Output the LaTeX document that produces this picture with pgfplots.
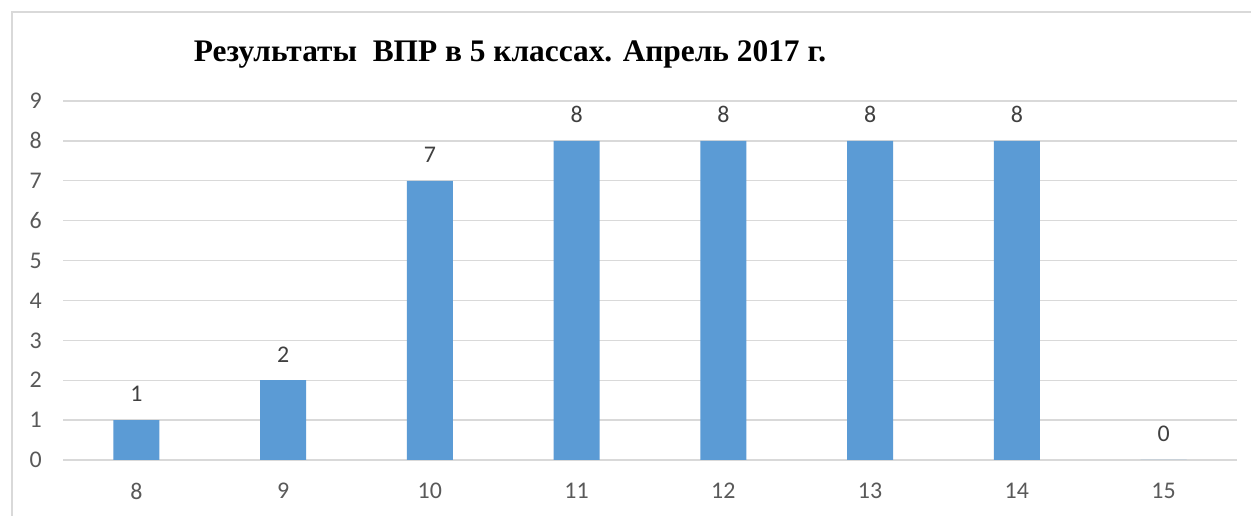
\documentclass[border=0pt]{standalone}
\usepackage{pgfplots}
\pgfplotsset{compat=1.18}
\usepackage{fontspec}
\setmainfont{Carlito}
\newfontfamily\titlefont{Liberation Serif}
\definecolor{barblue}{HTML}{5B9BD5}
\definecolor{gridgray}{HTML}{D9D9D9}
\definecolor{ticktext}{HTML}{595959}
\definecolor{labeltext}{HTML}{404040}
\begin{document}
\begin{tikzpicture}
\useasboundingbox (0,0) rectangle (1251bp,516bp);
\fill[white] (0,0) rectangle (1251bp,516bp);
\draw[gridgray, line width=2.5bp] (12bp,-20bp) -- (12bp,504bp) -- (1280bp,504bp);
\begin{axis}[at={(63bp,56bp)}, anchor=south west, scale only axis,
 width=1174bp, height=359bp,
 xmin=-0.5, xmax=7.5, ymin=0, ymax=9,
 ybar, bar width=46bp,
 axis line style={draw=none},
 ymajorgrids, grid style={gridgray, line width=1.3bp},
 ytick={0,1,2,3,4,5,6,7,8,9}, xtick={0,1,2,3,4,5,6,7},
 xticklabels={8,9,10,11,12,13,14,15},
 major tick length=0pt,
 /pgf/number format/assume math mode=true,
 tick label style={font=\fontsize{24}{28}\selectfont, text=ticktext, inner sep=0pt},
 yticklabel style={xshift=-21bp},
 xticklabel style={yshift=-23bp},
 nodes near coords,
 every node near coord/.append style={font=\fontsize{24}{28}\selectfont, text=labeltext, inner sep=0pt, yshift=18bp},
]
\addplot[fill=barblue, draw=none] coordinates {(0,1) (1,2) (2,7) (3,8) (4,8) (5,8) (6,8) (7,0)};
\end{axis}
\node[anchor=base, font=\titlefont\bfseries\fontsize{31.5}{36}\selectfont, inner sep=0pt] at (510bp, 454bp) {Результаты~~ВПР в 5 классах. Апрель 2017 г.};
\end{tikzpicture}
\end{document}
